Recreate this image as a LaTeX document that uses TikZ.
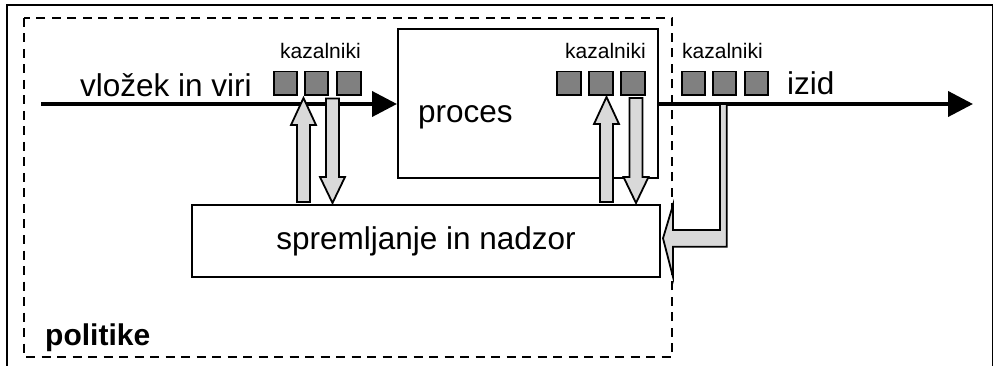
\documentclass[tikz,border=0pt]{standalone}
\usepackage{fontspec}
\setmainfont{Liberation Sans}
\usetikzlibrary{arrows.meta,calc}
\definecolor{sqgray}{RGB}{128,128,128}
\definecolor{arrgray}{RGB}{217,217,217}
\newcommand\myuparrow[2]{%
  \path[blockarrow] (#1) -- ++(12.5,27) -- ++(-6,0) -- ($(#1 |- #2.north)+(6.5,-2)$) -- ++(-13,0) -- ($(#1)+(-6.5,27)$) -- ++(-6,0) -- cycle;}
\newcommand\mydownarrow[2]{%
  \path[blockarrow] ($(#1)+(-6.5,0)$) -- ++(13,0) -- ($(#1 |- #2.north)+(6.5,-27)$) -- ++(6,0) -- ($(#1 |- #2.north)+(0,-1)$) -- ++(-12.5,-26) -- ++(6,0) -- cycle;}
\begin{document}
\begin{tikzpicture}[x=1pt,y=-1pt,
  bigtext/.style={font=\fontsize{31.5}{31.5}\selectfont, inner sep=0pt, anchor=base west},
  smalltext/.style={font=\fontsize{21}{21}\selectfont, inner sep=0pt, anchor=base west},
  boldtext/.style={font=\fontsize{30}{30}\selectfont\bfseries, inner sep=0pt, anchor=base west},
  box/.style={draw=black, line width=2pt, inner sep=0pt},
  sq/.style={draw=black, line width=1.8pt, fill=sqgray, minimum size=23.5pt, inner sep=0pt},
  mainline/.style={line width=4pt, -{Triangle[length=25pt,width=25pt]}},
  blockarrow/.style={draw=black, line width=1.8pt, fill=arrgray, line join=miter},
  policy/.style={draw=black, line width=2.4pt, dash pattern=on 9pt off 6.5pt},
  frame/.style={draw=black, line width=2pt}]
\useasboundingbox (0,0) rectangle (993,366);
\clip (0,0) rectangle (993,366);
% outer frame
\draw[frame] (7,372) -- (7,5) -- (992.5,5) -- (992.5,372);
% policy (dashed) area
\draw[policy] (24,18) rectangle (672,357);
% boxes
\node[box, minimum width=260pt, minimum height=149pt] (proc) at (528,103.5) {};
\node[box, minimum width=468pt, minimum height=72pt, font=\fontsize{31.5}{31.5}\selectfont] (mon) at (426,241) {spremljanje in nadzor};
% main flow
\coordinate (in) at (41,104);
\coordinate (out) at (973,104);
\draw[mainline] (in) -- (proc.west |- in);
\draw[mainline] (proc.east |- out) -- (out);
% indicator squares
\node[sq] (g1a) at (285.5,83.3) {};
\node[sq] (g1b) at (316.5,83.3) {};
\node[sq] (g1c) at (349,83.3) {};
\node[sq] (g2a) at (569,83.2) {};
\node[sq] (g2b) at (601,83.2) {};
\node[sq] (g2c) at (633,83.2) {};
\node[sq] (g3a) at (693.5,83.2) {};
\node[sq] (g3b) at (724.5,83.2) {};
\node[sq] (g3c) at (756.5,83.2) {};
% block arrows
\coordinate (u1) at (303.5,98);
\coordinate (d1) at (332.5,98.5);
\coordinate (u2) at (606.5,97);
\coordinate (d2) at (636,98);
\myuparrow{u1}{mon}
\mydownarrow{d1}{mon}
\myuparrow{u2}{mon}
\mydownarrow{d2}{mon}
% feedback arrow from output indicators
\coordinate (fb) at (723.3,104);
\path[blockarrow] ($(fb)+(-3.3,0)$) -- ++(0,126) -- (673,230) -- (673,205) -- ($(mon.east)+(2,-2.7)$) -- (673,277) -- (673,246.7) -- ($(fb |- 0,246.7)+(3.4,0)$) -- ($(fb)+(3.4,0)$) -- cycle;
% labels
\node[bigtext] (inlabel) at (80,96.7) {vložek in viri};
\node[smalltext] (k1) at (280,58.3) {kazalniki};
\node[smalltext] (k2) at (565,59) {kazalniki};
\node[smalltext] (k3) at (682,59) {kazalniki};
\node[bigtext] (proclabel) at (418,123) {proces};
\node[bigtext] (outlabel) at (787,95) {izid};
\node[boldtext] (pol) at (45,345) {politike};
\end{tikzpicture}
\end{document}
